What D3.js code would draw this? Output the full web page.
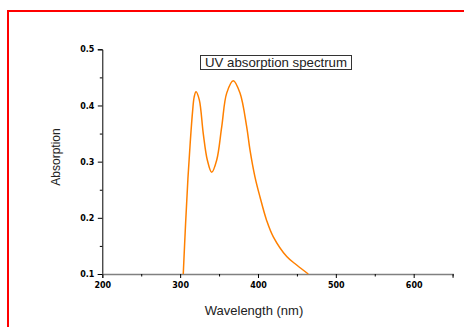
<!DOCTYPE html>
<html>
<head>
<meta charset="utf-8">
<script src="https://cdn.jsdelivr.net/npm/d3@7"></script>
<style>
  body { margin: 0; background: #fff; }
  svg { display: block; }
</style>
</head>
<body>
<svg width="464" height="327"></svg>
<script>
// wavelength (nm) and absorption
const wavelength = [304, 307, 310, 313, 316, 318, 320.4, 324.6, 329.7, 334.9, 340.5,
  347, 353.4, 359.8, 368.3, 376.9, 385.5, 389.7, 396.1, 402.6, 411.2, 419.7, 436.9, 449.7, 464.6];
const absorption = [0.1, 0.19, 0.27, 0.335, 0.39, 0.415, 0.4245, 0.41, 0.35, 0.303, 0.281,
  0.303, 0.362, 0.422, 0.444, 0.422, 0.362, 0.321, 0.273, 0.237, 0.195, 0.166, 0.131, 0.116, 0.1];

const xTicks = [200, 300, 400, 500, 600];
const xMinor = [250, 350, 450, 550, 650];
const yTicks = [0.1, 0.2, 0.3, 0.4, 0.5];
const yMinor = [0.15, 0.25, 0.35, 0.45];

const title = 'UV absorption spectrum';
const xAxisLabel = 'Wavelength (nm)';
const yAxisLabel = 'Absorption';

const svg = d3.select('svg');

// red outer frame
svg.append('rect')
  .attr('x', 8).attr('y', 11)
  .attr('width', 480).attr('height', 340)
  .attr('fill', 'none')
  .attr('stroke', '#ff0000')
  .attr('stroke-width', 2);

const xScale = d3.scaleLinear().domain([200, 650]).range([102.3, 452.6]);
const yScale = d3.scaleLinear().domain([0.1, 0.5]).range([274, 49.3]);

const tickFont = g => g.selectAll('text')
  .attr('font-family', 'DejaVu Sans, sans-serif')
  .attr('font-weight', 'bold')
  .attr('font-size', 8)
  .attr('fill', '#000');

// y axis
const yAxisG = svg.append('g')
  .attr('transform', `translate(${xScale(200)},0)`)
  .call(d3.axisLeft(yScale).tickValues(yTicks).tickFormat(d3.format('.1f'))
    .tickSize(4.5).tickPadding(3.5))
  .call(tickFont);
yAxisG.select('.domain').attr('stroke', '#000');
yAxisG.selectAll('.tick line').attr('stroke', '#000');

svg.append('g')
  .attr('transform', `translate(${xScale(200)},0)`)
  .call(d3.axisLeft(yScale).tickValues(yMinor).tickFormat('').tickSize(2.5))
  .call(g => g.select('.domain').remove());

// x axis
const xAxisG = svg.append('g')
  .attr('transform', `translate(0,${yScale(0.1)})`)
  .call(d3.axisBottom(xScale).tickValues(xTicks).tickSizeOuter(0)
    .tickSize(4).tickPadding(4))
  .call(tickFont);
xAxisG.select('.domain').attr('stroke', '#808080').attr('stroke-width', 1.6);
xAxisG.selectAll('.tick line').attr('stroke', '#000');

svg.append('g')
  .attr('transform', `translate(0,${yScale(0.1)})`)
  .call(d3.axisBottom(xScale).tickValues(xMinor).tickFormat('').tickSize(2.5))
  .call(g => g.select('.domain').remove());

// spectrum line
const data = wavelength.map((w, i) => ({ w, a: absorption[i] }));
const lineGenerator = d3.line()
  .x(d => xScale(d.w))
  .y(d => yScale(d.a))
  .curve(d3.curveCatmullRom);

svg.append('path')
  .attr('d', lineGenerator(data))
  .attr('fill', 'none')
  .attr('stroke', '#ff8000')
  .attr('stroke-width', 1.5);

// axis labels
svg.append('text')
  .attr('x', 254).attr('y', 315)
  .attr('text-anchor', 'middle')
  .attr('font-family', 'Liberation Sans, Arial, sans-serif')
  .attr('font-size', 13)
  .attr('fill', '#222')
  .text(xAxisLabel);

svg.append('text')
  .attr('transform', 'translate(60,157) rotate(-90)')
  .attr('text-anchor', 'middle')
  .attr('font-family', 'Liberation Sans, Arial, sans-serif')
  .attr('font-size', 12)
  .attr('fill', '#222')
  .text(yAxisLabel);

// title box
svg.append('rect')
  .attr('x', 200.5).attr('y', 55.5)
  .attr('width', 151).attr('height', 14)
  .attr('fill', '#fff')
  .attr('stroke', '#333')
  .attr('stroke-width', 1);

svg.append('text')
  .attr('x', 205).attr('y', 66.7)
  .attr('font-family', 'Liberation Sans, Arial, sans-serif')
  .attr('font-size', 13)
  .attr('textLength', 142)
  .attr('lengthAdjust', 'spacingAndGlyphs')
  .attr('fill', '#222')
  .text(title);
</script>
</body>
</html>
